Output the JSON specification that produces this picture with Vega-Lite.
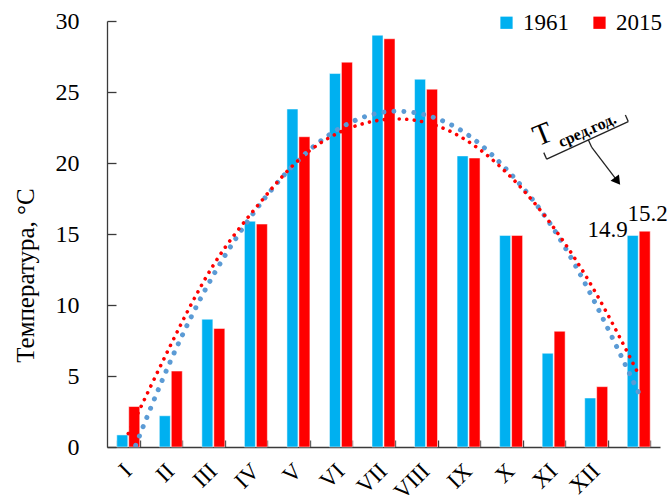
{
  "$schema": "https://vega.github.io/schema/vega-lite/v6.json",
  "width": 553,
  "height": 426,
  "autosize": {"type": "none"},
  "padding": {"left": 107, "top": 21, "right": 10, "bottom": 56},
  "background": "white",
  "config": {
    "view": {"stroke": null},
    "font": "Liberation Serif",
    "axis": {
      "labelFont": "Liberation Serif",
      "titleFont": "Liberation Serif",
      "labelColor": "#000000",
      "titleColor": "#000000",
      "domainColor": "#3a3a3a",
      "tickColor": "#3a3a3a",
      "domainWidth": 1.3,
      "tickWidth": 1.3,
      "grid": false
    },
    "legend": {"labelFont": "Liberation Serif"}
  },
  "datasets": {
    "bars": [
      {"m": "I", "s": "1961", "v": 0.85}, {"m": "I", "s": "2015", "v": 2.85},
      {"m": "II", "s": "1961", "v": 2.2}, {"m": "II", "s": "2015", "v": 5.35},
      {"m": "III", "s": "1961", "v": 9.0}, {"m": "III", "s": "2015", "v": 8.35},
      {"m": "IV", "s": "1961", "v": 15.9}, {"m": "IV", "s": "2015", "v": 15.7},
      {"m": "V", "s": "1961", "v": 23.8}, {"m": "V", "s": "2015", "v": 21.85},
      {"m": "VI", "s": "1961", "v": 26.3}, {"m": "VI", "s": "2015", "v": 27.1},
      {"m": "VII", "s": "1961", "v": 29.0}, {"m": "VII", "s": "2015", "v": 28.75},
      {"m": "VIII", "s": "1961", "v": 25.9}, {"m": "VIII", "s": "2015", "v": 25.2},
      {"m": "IX", "s": "1961", "v": 20.5}, {"m": "IX", "s": "2015", "v": 20.35},
      {"m": "X", "s": "1961", "v": 14.9}, {"m": "X", "s": "2015", "v": 14.9},
      {"m": "XI", "s": "1961", "v": 6.6}, {"m": "XI", "s": "2015", "v": 8.15},
      {"m": "XII", "s": "1961", "v": 3.45}, {"m": "XII", "s": "2015", "v": 4.25},
      {"m": " ", "s": "1961", "v": 14.9}, {"m": " ", "s": "2015", "v": 15.2}
    ],
    "trend": [
      {"m": "I", "s": "1961", "v": -1.2}, {"m": "II", "s": "1961", "v": 6.1},
      {"m": "III", "s": "1961", "v": 12.1}, {"m": "IV", "s": "1961", "v": 16.7},
      {"m": "V", "s": "1961", "v": 20.2}, {"m": "VI", "s": "1961", "v": 22.5},
      {"m": "VII", "s": "1961", "v": 23.58}, {"m": "VIII", "s": "1961", "v": 23.37},
      {"m": "IX", "s": "1961", "v": 21.95}, {"m": "X", "s": "1961", "v": 19.2},
      {"m": "XI", "s": "1961", "v": 15.35}, {"m": "XII", "s": "1961", "v": 10.0},
      {"m": " ", "s": "1961", "v": 3.8},
      {"m": "I", "s": "2015", "v": 0.95}, {"m": "II", "s": "2015", "v": 7.2},
      {"m": "III", "s": "2015", "v": 12.8}, {"m": "IV", "s": "2015", "v": 16.85},
      {"m": "V", "s": "2015", "v": 20.2}, {"m": "VI", "s": "2015", "v": 22.2},
      {"m": "VII", "s": "2015", "v": 23.05}, {"m": "VIII", "s": "2015", "v": 22.85},
      {"m": "IX", "s": "2015", "v": 21.5}, {"m": "X", "s": "2015", "v": 19.0},
      {"m": "XI", "s": "2015", "v": 15.45}, {"m": "XII", "s": "2015", "v": 10.8},
      {"m": " ", "s": "2015", "v": 5.1}
    ],
    "segs": [
      {"u": 10.336, "v": 20.27, "u2": 12.254, "v2": 22.92},
      {"u": 10.336, "v": 20.27, "u2": 10.268, "v2": 20.73},
      {"u": 12.254, "v": 22.92, "u2": 12.186, "v2": 23.38},
      {"u": 11.314, "v": 21.63, "u2": 11.392, "v2": 21.12},
      {"u": 11.392, "v": 21.12, "u2": 11.97, "v2": 18.85}
    ],
    "head": [{"u": 12.0, "v": 18.72}],
    "tbig": [{"u": 10.249, "v": 21.99, "t": "T"}],
    "tsmall": [{"u": 11.29, "v": 22.3, "t": "сред.год."}]
  },
  "layer": [
    {
      "data": {"name": "bars"},
      "mark": {"type": "bar", "stroke": "white", "strokeWidth": 0.5},
      "encoding": {
        "x": {
          "field": "m", "type": "nominal", "sort": null,
          "scale": {"domain": ["I","II","III","IV","V","VI","VII","VIII","IX","X","XI","XII"," "], "paddingInner": 0.46, "paddingOuter": 0.23},
          "axis": {
            "title": null, "labels": false,
            "tickBand": "extent", "tickSize": -7
          }
        },
        "xOffset": {"field": "s", "type": "nominal", "scale": {"paddingInner": 0.08}},
        "y": {
          "field": "v", "type": "quantitative",
          "scale": {"domain": [0, 30], "nice": false},
          "axis": {
            "title": "Температура, °С", "titleFontSize": 25, "titleFontWeight": "normal",
            "titleY": 254,
            "values": [0, 5, 10, 15, 20, 25, 30], "labelFontSize": 24,
            "tickSize": -9, "labelPadding": 37, "titlePadding": 17
          }
        },
        "color": {
          "field": "s", "type": "nominal",
          "scale": {"domain": ["1961", "2015"], "range": ["#00B0F0", "#FF0000"]},
          "legend": {
            "title": null, "orient": "none", "direction": "horizontal",
            "legendX": 388, "legendY": -10, "symbolType": "square", "symbolSize": 150,
            "symbolStrokeWidth": 0, "labelFontSize": 23, "labelColor": "#000000",
            "columnPadding": 19, "labelOffset": 5, "padding": 0
          }
        }
      }
    },
    {
      "data": {"name": "bars"},
      "transform": [{"filter": "datum.s == '1961' && datum.m != ' '"}],
      "mark": {"type": "text", "angle": -45, "align": "right", "baseline": "middle", "fontSize": 23, "font": "Liberation Serif", "color": "#000000"},
      "encoding": {
        "x": {"field": "m", "type": "nominal", "sort": null, "axis": null,
              "scale": {"domain": ["I","II","III","IV","V","VI","VII","VIII","IX","X","XI","XII"," "], "paddingInner": 0.46, "paddingOuter": 0.23}},
        "y": {"datum": -1.45, "type": "quantitative", "scale": {"domain": [0, 30], "nice": false}},
        "text": {"field": "m"}
      }
    },
    {
      "data": {"name": "trend"},
      "transform": [{"filter": "datum.s == '1961'"}],
      "mark": {"type": "line", "clip": true, "interpolate": "natural", "color": "#5B9BD5", "strokeWidth": 5, "strokeDash": [0.01, 10], "strokeCap": "round"},
      "encoding": {
        "x": {"field": "m", "type": "nominal", "sort": null, "axis": null,
              "scale": {"type": "point", "padding": 0.5, "domain": ["I","II","III","IV","V","VI","VII","VIII","IX","X","XI","XII"," "]}},
        "y": {"field": "v", "type": "quantitative", "scale": {"domain": [0, 30], "nice": false}}
      }
    },
    {
      "data": {"name": "trend"},
      "transform": [{"filter": "datum.s == '2015'"}],
      "mark": {"type": "line", "clip": true, "interpolate": "natural", "color": "#FF0000", "strokeWidth": 3.6, "strokeDash": [0.01, 7.5], "strokeCap": "round"},
      "encoding": {
        "x": {"field": "m", "type": "nominal", "sort": null, "axis": null,
              "scale": {"type": "point", "padding": 0.5, "domain": ["I","II","III","IV","V","VI","VII","VIII","IX","X","XI","XII"," "]}},
        "y": {"field": "v", "type": "quantitative", "scale": {"domain": [0, 30], "nice": false}}
      }
    },
    {
      "data": {"name": "bars"},
      "transform": [{"filter": "datum.m == ' ' && datum.s == '1961'"}],
      "mark": {"type": "text", "align": "right", "baseline": "alphabetic", "dx": -11, "dy": 2, "fontSize": 23, "font": "Liberation Serif", "color": "#000000"},
      "encoding": {
        "x": {"field": "m", "type": "nominal", "sort": null, "axis": null,
              "scale": {"domain": ["I","II","III","IV","V","VI","VII","VIII","IX","X","XI","XII"," "], "paddingInner": 0.46, "paddingOuter": 0.23}},
        "y": {"field": "v", "type": "quantitative", "scale": {"domain": [0, 30], "nice": false}},
        "text": {"field": "v", "type": "quantitative", "format": ".1f"}
      }
    },
    {
      "data": {"name": "bars"},
      "transform": [{"filter": "datum.m == ' ' && datum.s == '2015'"}],
      "mark": {"type": "text", "align": "center", "baseline": "alphabetic", "dx": 9, "dy": -10, "fontSize": 23, "font": "Liberation Serif", "color": "#000000"},
      "encoding": {
        "x": {"field": "m", "type": "nominal", "sort": null, "axis": null,
              "scale": {"domain": ["I","II","III","IV","V","VI","VII","VIII","IX","X","XI","XII"," "], "paddingInner": 0.46, "paddingOuter": 0.23}},
        "y": {"field": "v", "type": "quantitative", "scale": {"domain": [0, 30], "nice": false}},
        "text": {"field": "v", "type": "quantitative", "format": ".1f"}
      }
    },
    {
      "data": {"name": "segs"},
      "mark": {"type": "rule", "color": "#222222", "strokeWidth": 1.3},
      "encoding": {
        "x": {"field": "u", "type": "quantitative", "scale": {"domain": [0, 13]}, "axis": null},
        "x2": {"field": "u2"},
        "y": {"field": "v", "type": "quantitative", "scale": {"domain": [0, 30], "nice": false}},
        "y2": {"field": "v2"}
      }
    },
    {
      "data": {"name": "head"},
      "mark": {"type": "point", "shape": "triangle-down", "filled": true, "color": "#000000", "size": 110, "angle": -37, "opacity": 1},
      "encoding": {
        "x": {"field": "u", "type": "quantitative", "scale": {"domain": [0, 13]}, "axis": null},
        "y": {"field": "v", "type": "quantitative", "scale": {"domain": [0, 30], "nice": false}}
      }
    },
    {
      "data": {"name": "tbig"},
      "mark": {"type": "text", "fontSize": 30, "font": "Liberation Serif", "angle": -22, "align": "center", "baseline": "middle", "color": "#000000"},
      "encoding": {
        "x": {"field": "u", "type": "quantitative", "scale": {"domain": [0, 13]}, "axis": null},
        "y": {"field": "v", "type": "quantitative", "scale": {"domain": [0, 30], "nice": false}},
        "text": {"field": "t"}
      }
    },
    {
      "data": {"name": "tsmall"},
      "mark": {"type": "text", "fontSize": 16, "fontWeight": "bold", "font": "Liberation Serif", "angle": -24, "align": "center", "baseline": "middle", "color": "#000000"},
      "encoding": {
        "x": {"field": "u", "type": "quantitative", "scale": {"domain": [0, 13]}, "axis": null},
        "y": {"field": "v", "type": "quantitative", "scale": {"domain": [0, 30], "nice": false}},
        "text": {"field": "t"}
      }
    }
  ],
  "resolve": {"scale": {"x": "independent"}}
}
